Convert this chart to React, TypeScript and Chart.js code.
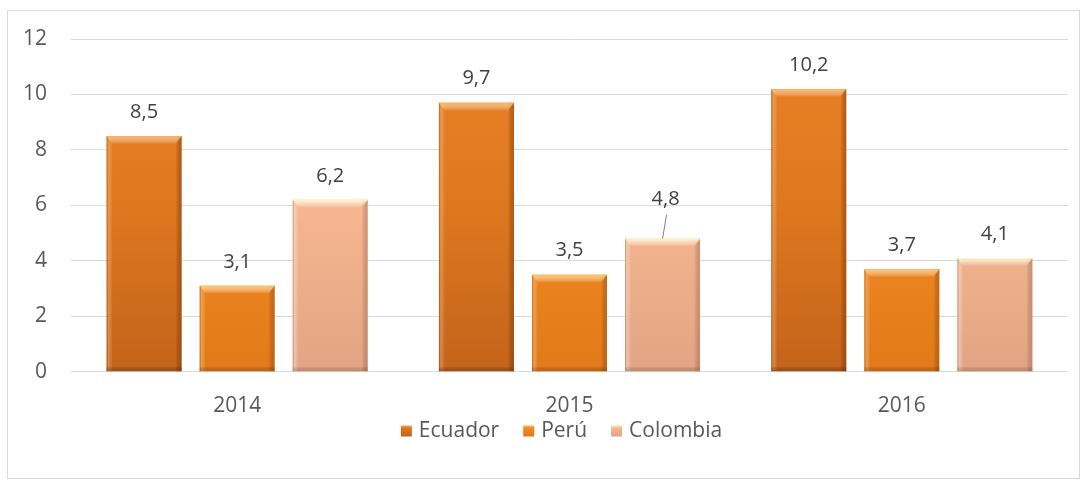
import React, { useEffect, useRef } from "react";
import { Chart, registerables } from "chart.js";

Chart.register(...registerables);

const categories = ["2014", "2015", "2016"];
const seriesNames = ["Ecuador", "Perú", "Colombia"];
const ecuadorValues = [8.5, 9.7, 10.2];
const peruValues = [3.1, 3.5, 3.7];
const colombiaValues = [6.2, 4.8, 4.1];
const yTickValues = [0, 2, 4, 6, 8, 10, 12];

const palettes = [
  { top: "#EA8226", mid: "#DE781F", bottom: "#C4631A", bevel: "#F7B25C", light: "rgba(255,200,140,0.35)", dark: "rgba(120,50,10,0.45)", legend: "#D9711D" },
  { top: "#F8952E", mid: "#F28A24", bottom: "#E2791A", bevel: "#FCC566", light: "rgba(255,215,150,0.35)", dark: "rgba(150,70,10,0.40)", legend: "#F08A22" },
  { top: "#F9C2A0", mid: "#F5B690", bottom: "#E2A484", bevel: "#FFF3CC", light: "rgba(255,240,225,0.4)", dark: "rgba(150,90,60,0.35)", legend: "#EFB491" },
];

const FONT = "'Open Sans', 'DejaVu Sans', sans-serif";

const bevelPlugin = {
  id: "bevel",
  afterDatasetsDraw(chart: any) {
    const ctx = chart.ctx;
    chart.data.datasets.forEach((ds: any, di: number) => {
      const meta = chart.getDatasetMeta(di);
      const pal = palettes[di];
      meta.data.forEach((bar: any) => {
        const { x, y, base, width } = bar.getProps(["x", "y", "base", "width"], true);
        const left = x - width / 2;
        const h = base - y;
        ctx.save();
        let g = ctx.createLinearGradient(left, 0, left + 6, 0);
        g.addColorStop(0, pal.dark);
        g.addColorStop(0.3, pal.light);
        g.addColorStop(1, "rgba(255,255,255,0)");
        ctx.fillStyle = g;
        ctx.fillRect(left, y, 6, h);
        g = ctx.createLinearGradient(left + width - 6, 0, left + width, 0);
        g.addColorStop(0, "rgba(0,0,0,0)");
        g.addColorStop(1, pal.dark);
        ctx.fillStyle = g;
        ctx.fillRect(left + width - 6, y, 6, h);
        const bh = Math.min(8, h);
        g = ctx.createLinearGradient(0, y, 0, y + bh);
        g.addColorStop(0, pal.bevel);
        g.addColorStop(1, "rgba(255,255,255,0)");
        ctx.fillStyle = g;
        ctx.beginPath();
        ctx.moveTo(left, y);
        ctx.lineTo(left + width, y);
        ctx.lineTo(left + width - 6, y + bh);
        ctx.lineTo(left + 6, y + bh);
        ctx.closePath();
        ctx.fill();
        const sh = Math.min(5, h);
        g = ctx.createLinearGradient(0, base - sh, 0, base);
        g.addColorStop(0, "rgba(0,0,0,0)");
        g.addColorStop(1, pal.dark);
        ctx.fillStyle = g;
        ctx.fillRect(left, base - sh, width, sh);
        ctx.restore();
      });
    });
  },
};

const labelPlugin = {
  id: "valueLabels",
  afterDatasetsDraw(chart: any, _args: any, opts: any) {
    const ctx = chart.ctx;
    ctx.save();
    ctx.font = `20px ${FONT}`;
    ctx.fillStyle = "#404040";
    ctx.textAlign = "center";
    ctx.textBaseline = "middle";
    chart.data.datasets.forEach((ds: any, di: number) => {
      const meta = chart.getDatasetMeta(di);
      meta.data.forEach((bar: any, i: number) => {
        const { x, y } = bar.getProps(["x", "y"], true);
        const raised = opts.raised && opts.raised.dataset === di && opts.raised.index === i;
        const ly = y - 24 - (raised ? opts.raised.extra : 0);
        const lx = x + (raised ? 3 : 0);
        const text = String(ds.data[i]).replace(".", ",");
        ctx.fillText(text, lx, ly);
        if (raised) {
          ctx.strokeStyle = "#7f7f7f";
          ctx.lineWidth = 1;
          ctx.beginPath();
          ctx.moveTo(lx + 1, ly + 15);
          ctx.lineTo(x, y);
          ctx.stroke();
        }
      });
    });
    ctx.restore();
  },
};

const legendPlugin = {
  id: "customLegend",
  afterDraw(chart: any, _args: any, opts: any) {
    const ctx = chart.ctx;
    ctx.save();
    ctx.font = `21px ${FONT}`;
    ctx.textBaseline = "middle";
    ctx.textAlign = "left";
    const box = 11;
    const gapText = 7;
    const gapItem = 24;
    const widths = seriesNames.map((n) => box + gapText + ctx.measureText(n).width);
    const total = widths.reduce((a, b) => a + b, 0) + gapItem * (seriesNames.length - 1);
    let x = chart.width / 2 - total / 2 + opts.shift;
    const y = opts.y;
    seriesNames.forEach((name, di) => {
      const pal = palettes[di];
      const g = ctx.createLinearGradient(0, y - box / 2, 0, y + box / 2);
      g.addColorStop(0, pal.bevel);
      g.addColorStop(0.35, pal.mid);
      g.addColorStop(1, pal.bottom);
      ctx.fillStyle = g;
      ctx.fillRect(x, y - box / 2 + 1, box, box);
      ctx.fillStyle = "#595959";
      ctx.fillText(name, x + box + gapText, y + 1);
      x += widths[di] + gapItem;
    });
    ctx.restore();
  },
};

export default function App() {
  const canvasRef = useRef<HTMLCanvasElement | null>(null);

  useEffect(() => {
    if (!canvasRef.current) return;
    const values = [ecuadorValues, peruValues, colombiaValues];
    const chart = new Chart(canvasRef.current, {
      type: "bar",
      data: {
        labels: categories,
        datasets: seriesNames.map((name, di) => ({
          label: name,
          data: values[di],
          backgroundColor: (c: any) => {
            const pal = palettes[di];
            const area = c.chart.chartArea;
            if (!area) return pal.mid;
            const g = c.chart.ctx.createLinearGradient(0, area.top, 0, area.bottom);
            g.addColorStop(0, pal.top);
            g.addColorStop(0.5, pal.mid);
            g.addColorStop(1, pal.bottom);
            return g;
          },
          borderWidth: 0,
          categoryPercentage: 0.84,
          barPercentage: 0.806,
        })),
      },
      options: {
        animation: false,
        responsive: true,
        maintainAspectRatio: false,
        layout: { padding: { top: 28, right: 11, bottom: 37, left: 0 } },
        scales: {
          x: {
            grid: { display: false, drawTicks: false },
            border: { display: false },
            ticks: { color: "#595959", font: { family: FONT, size: 21 }, padding: 22 },
          },
          y: {
            min: 0,
            max: 12,
            afterBuildTicks: (scale: any) => {
              scale.ticks = yTickValues.map((v) => ({ value: v }));
            },
            afterFit: (scale: any) => {
              scale.width = 63;
              scale.paddingTop = 0;
              scale.paddingBottom = 0;
            },
            grid: { color: "#d9d9d9", lineWidth: 1, drawTicks: false },
            border: { display: false },
            ticks: { color: "#595959", font: { family: FONT, size: 21 }, padding: 24 },
          },
        },
        plugins: {
          tooltip: { enabled: false },
          legend: { display: false },
          valueLabels: { raised: { dataset: 2, index: 1, extra: 15 } },
          customLegend: { y: 419, shift: 18 },
        } as any,
      },
      plugins: [bevelPlugin, labelPlugin, legendPlugin],
    });
    return () => chart.destroy();
  }, []);

  return (
    <div
      style={{
        position: "absolute",
        left: 7,
        top: 10,
        width: 1073,
        height: 469,
        border: "1px solid #d9d9d9",
        boxSizing: "border-box",
        background: "#fff",
      }}
    >
      <div style={{ position: "relative", width: "100%", height: "100%" }}>
        <canvas ref={canvasRef} />
      </div>
    </div>
  );
}
